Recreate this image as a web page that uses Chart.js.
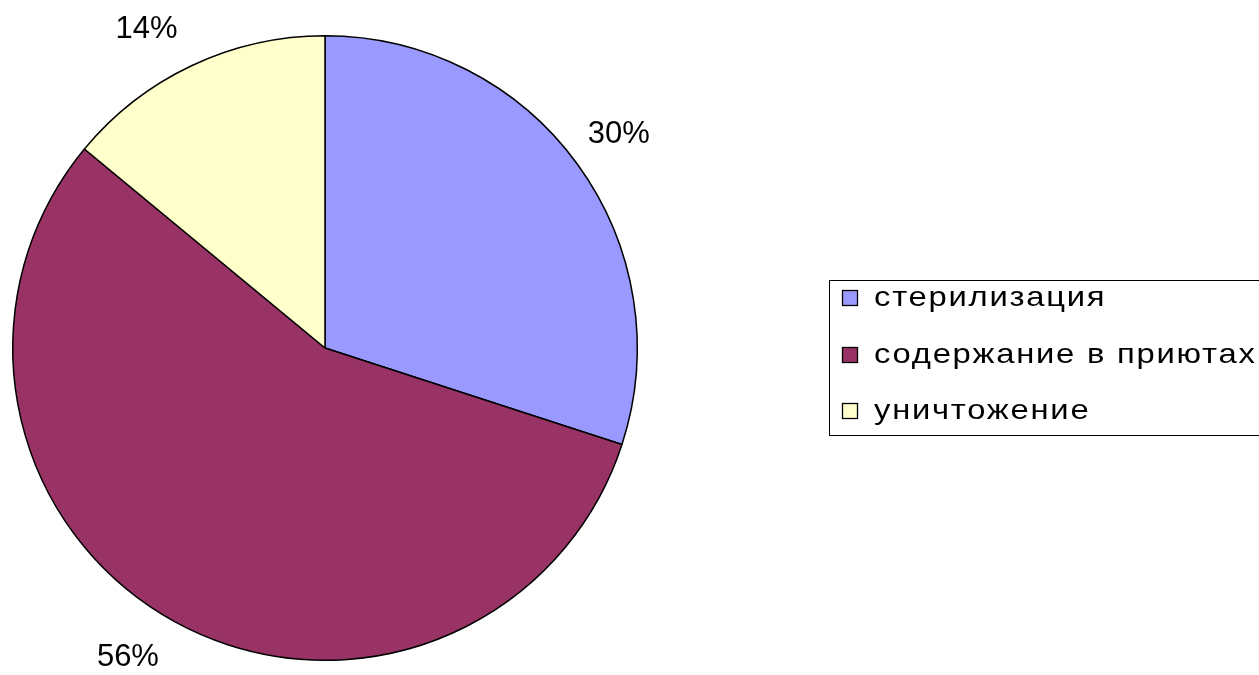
<!DOCTYPE html>
<html><head><meta charset="utf-8">
<script src="https://cdn.jsdelivr.net/npm/chart.js@4/dist/chart.umd.min.js"></script>
<style>html,body{margin:0;padding:0;background:#fff;}#wrap{width:1259px;height:675px;position:relative;}</style>
</head><body><div id="wrap"><canvas id="c" width="1259" height="675"></canvas></div>
<script>
const categories = ['стерилизация', 'содержание в приютах', 'уничтожение'];
const values = [30, 56, 14];
const colors = ['#9999FF', '#993366', '#FFFFCC'];
const pctLabels = ['30%', '56%', '14%'];

const FONT = '"Liberation Sans", Arial, sans-serif';

const labelPlugin = {
  id: 'outLabels',
  afterDraw(chart) {
    const ctx = chart.ctx;
    const meta = chart.getDatasetMeta(0);
    ctx.save();
    ctx.font = '31px ' + FONT;
    ctx.fillStyle = '#000';
    ctx.textAlign = 'center';
    ctx.textBaseline = 'middle';
    meta.data.forEach((arc, i) => {
      const mid = (arc.startAngle + arc.endAngle) / 2;
      const ux = Math.cos(mid), uy = Math.sin(mid);
      const r = arc.outerRadius + 20;
      const w = ctx.measureText(pctLabels[i]).width;
      const x = arc.x + r * ux + Math.sign(ux) * w / 2 - 6;
      const y = arc.y + r * uy + Math.sign(uy) * 18;
      ctx.fillText(pctLabels[i], x, y);
    });
    ctx.restore();
  }
};

const legendPlugin = {
  id: 'boxLegend',
  afterDraw(chart) {
    const ctx = chart.ctx;
    ctx.save();
    ctx.strokeStyle = '#000';
    ctx.lineWidth = 1;
    ctx.strokeRect(829.5, 280.5, 440, 155);
    const rows = [297, 354, 410];
    categories.forEach((c, i) => {
      ctx.fillStyle = colors[i];
      ctx.fillRect(842, rows[i] - 7, 16, 16);
      ctx.strokeStyle = '#000';
      ctx.lineWidth = 1.3;
      ctx.strokeRect(842.5, rows[i] - 6.5, 15, 15);
      ctx.save();
      ctx.translate(874, rows[i] + 1);
      ctx.scale(1.17, 1);
      ctx.font = '28px ' + FONT;
      if ('letterSpacing' in ctx) ctx.letterSpacing = '1.5px';
      ctx.textBaseline = 'middle';
      ctx.textAlign = 'left';
      ctx.fillStyle = '#000';
      ctx.fillText(c, 0, 0);
      ctx.restore();
    });
    ctx.restore();
  }
};

new Chart(document.getElementById('c'), {
  type: 'pie',
  data: {
    labels: categories,
    datasets: [{
      data: values,
      backgroundColor: colors,
      borderColor: '#000',
      borderWidth: 1.5,
      borderAlign: 'center'
    }]
  },
  options: {
    responsive: false,
    animation: false,
    layout: { padding: { left: 12, right: 621, top: 35, bottom: 14 } },
    plugins: { legend: { display: false }, tooltip: { enabled: false } }
  },
  plugins: [labelPlugin, legendPlugin]
});
</script>
</body></html>
